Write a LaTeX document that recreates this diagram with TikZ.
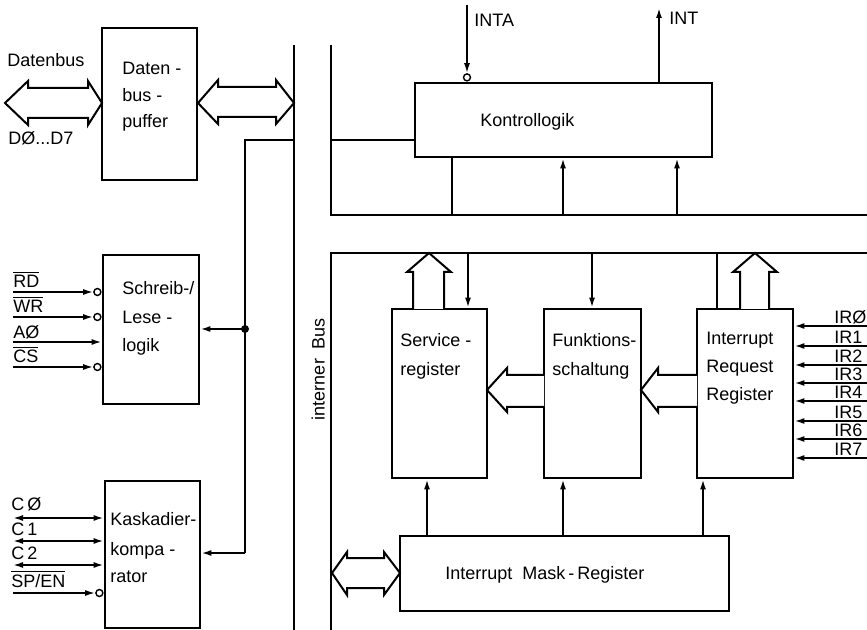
\documentclass[tikz,border=0pt]{standalone}
\usepackage{fontspec}
\setmainfont{Liberation Sans}
\usetikzlibrary{arrows.meta}
\begin{document}
\begin{tikzpicture}[x=0.5pt,y=-0.5pt,
  box/.style={draw, line width=1.4pt, inner sep=0pt},
  ln/.style={line width=0.9pt},
  arr/.style={line width=0.9pt, -{Latex[length=5pt,width=3pt]}},
  darr/.style={line width=0.9pt, {Latex[length=5pt,width=3pt]}-{Latex[length=5pt,width=3pt]}},
  hol/.style={draw, line width=1pt, line join=miter, fill=white},
  busline/.style={line width=1.2pt},
  txt/.style={font=\fontsize{9}{10}\selectfont, inner sep=0pt, anchor=west, text height=6.5pt, text depth=0pt},
  inv/.style={circle, draw, line width=0.7pt, inner sep=0pt, minimum size=3.5pt, fill=white},
]
\useasboundingbox (0,0) rectangle (867,630);

% ---------- boxes ----------
\node[box, minimum width=47.5pt, minimum height=76pt]   (buf) at (149.5,104) {};
\node[box, minimum width=48pt,   minimum height=74.5pt] (rw)  at (151,329.5) {};
\node[box, minimum width=47.5pt, minimum height=73.5pt] (cas) at (152.5,554.5) {};
\node[box, minimum width=148.5pt,minimum height=37pt]   (ctl) at (563.5,120) {};
\node[box, minimum width=47.5pt, minimum height=84.5pt] (isr) at (439.5,393.5) {};
\node[box, minimum width=48.5pt, minimum height=84.5pt] (fun) at (592.5,393.5) {};
\node[box, minimum width=48pt,   minimum height=84.5pt] (irr) at (745,393.5) {};
\node[box, minimum width=164.5pt,minimum height=37.5pt] (imr) at (564.5,573.5) {};

% ---------- box texts ----------
\node[txt] (tb1) at (122,68)  {Daten -};
\node[txt] (tb2) at (122,95)  {bus -};
\node[txt] (tb3) at (122,121) {puffer};
\node[txt] (tr1) at (122,288) {Schreib-/};
\node[txt] (tr2) at (122,317) {Lese -};
\node[txt] (tr3) at (122,345) {logik};
\node[txt] (tc1) at (110,519) {Kaskadier-};
\node[txt] (tc2) at (110,549) {kompa -};
\node[txt] (tc3) at (110,576) {rator};
\node[txt] (tk)  at (480,120) {Kontrollogik};
\node[txt] (ts1) at (400,340) {Service -};
\node[txt] (ts2) at (400,369) {register};
\node[txt] (tf1) at (552,340) {Funktions-};
\node[txt] (tf2) at (552,369) {schaltung};
\node[txt] (ti1) at (706,338) {Interrupt};
\node[txt] (ti2) at (706,366) {Request};
\node[txt] (ti3) at (706,394) {Register};
\node[txt] (tm)  at (445,573) {Interrupt\ \ Mask\,-\,Register};

% ---------- other labels ----------
\node[txt] (ldb)  at (7,60)   {Datenbus};
\node[txt] (ldd)  at (8,138)  {DØ...D7};
\node[txt] (linta) at (474,20) {INTA};
\node[txt] (lint)  at (669,18) {INT};
\node[txt, anchor=center, rotate=90] (lbus) at (318,369) {interner\ \ Bus};

% ---------- internal bus ----------
\coordinate (bL1) at (294,45);  \coordinate (bL2) at (294,630);
\draw[busline] (bL1) -- (bL2);
\coordinate (bR1) at (331,45);  \coordinate (bR2) at (331,215); \coordinate (bR3) at (867,215);
\draw[busline] (bR1) -- (bR2) -- (bR3);
\coordinate (bR4) at (867,253); \coordinate (bR5) at (331,253); \coordinate (bR6) at (331,630);
\draw[busline] (bR4) -- (bR5) -- (bR6);

% ---------- left internal line ----------
\coordinate (t1) at (294,140); \coordinate (t2) at (245,140); \coordinate (t3) at (245,553);
\draw[ln] (t1) -- (t2) -- (t3);
\draw[arr] (t3) -- (t3 -| cas.east);
\coordinate (jn) at (245,329);
\fill (jn) circle (2pt);
\draw[arr] (jn) -- (jn -| rw.east);

% ---------- hollow double arrows ----------
\path[hol] (5,103) -- (28,81) -- (28,88) -- (88,88) -- (88,81) -- (102,103) -- (88,125) -- (88,118) -- (28,118) -- (28,125) -- cycle;
\path[hol] (198,103) -- (218,80) -- (218,87) -- (276,87) -- (276,80) -- (294,103) -- (276,124) -- (276,117) -- (218,117) -- (218,124) -- cycle;
\path[hol] (332,573) -- (347,552) -- (347,558) -- (384,558) -- (384,552) -- (400,573) -- (384,595) -- (384,588) -- (347,588) -- (347,595) -- cycle;

% ---------- hollow single arrows ----------
\path[hol] (413,309) -- (413,272) -- (407,272) -- (429,253) -- (451,272) -- (444,272) -- (444,309);
\path[hol] (740,309) -- (740,272) -- (733,272) -- (755,253) -- (777,272) -- (769,272) -- (769,309);
\path[hol] (544,375) -- (507,375) -- (507,368) -- (487,390) -- (507,412) -- (507,407) -- (544,407);
\path[hol] (697,375) -- (658,375) -- (658,368) -- (641,390) -- (658,412) -- (658,407) -- (697,407);

% ---------- Kontrollogik connections ----------
\coordinate (cK) at (331,140);
\draw[ln] (cK) -- (cK -| ctl.west);
\coordinate (kx1) at (452,215); \coordinate (kx2) at (563,215); \coordinate (kx3) at (677,215);
\draw[ln]  (kx1) -- (kx1 |- ctl.south);
\draw[arr] (kx2) -- (kx2 |- ctl.south);
\draw[arr] (kx3) -- (kx3 |- ctl.south);
\coordinate (intaS) at (467,5);
\node[inv, anchor=south] (intaC) at (intaS |- ctl.north) {};
\draw[arr] (intaS) -- (intaC.north);
\coordinate (intE) at (659,8);
\draw[arr] (intE |- ctl.north) -- (intE);

% ---------- lower region connections ----------
\coordinate (sx) at (468,253); \coordinate (fx) at (592,253); \coordinate (rx) at (717,253);
\draw[arr] (sx) -- (sx |- isr.north);
\draw[arr] (fx) -- (fx |- fun.north);
\draw[ln]  (rx) -- (rx |- irr.north);
\coordinate (m1) at (427,536); \coordinate (m2) at (563,536); \coordinate (m3) at (703,536);
\draw[arr] (m1) -- (m1 |- isr.south);
\draw[arr] (m2) -- (m2 |- fun.south);
\draw[arr] (m3) -- (m3 |- irr.south);

% ---------- IR inputs ----------
\foreach \yy/\tt [count=\i] in {326/IRØ,346/IR1,365/IR2,383/IR3,401/IR4,421/IR5,439/IR6,458/IR7} {
  \coordinate (ir\i) at (867,\yy);
  \draw[arr] (ir\i) -- (ir\i -| irr.east);
  \node[txt] (irl\i) at (834,\yy-9) {\tt};
}

% ---------- Schreib/Lese inputs ----------
\coordinate (rdS) at (13,292); \coordinate (wrS) at (13,317);
\coordinate (aS)  at (13,342); \coordinate (csS) at (13,367);
\node[inv, anchor=east] (rdC) at (rdS -| rw.west) {};
\node[inv, anchor=east] (wrC) at (wrS -| rw.west) {};
\node[inv, anchor=east] (csC) at (csS -| rw.west) {};
\draw[arr] (rdS) -- (rdC.west);
\draw[arr] (wrS) -- (wrC.west);
\draw[arr] (aS)  -- (aS -| rw.west);
\draw[arr] (csS) -- (csC.west);
\node[txt] (lrd) at (13,281) {$\overline{\hbox{RD}}$};
\node[txt] (lwr) at (13,306) {$\overline{\hbox{WR}}$};
\node[txt] (la0) at (13,332) {AØ};
\node[txt] (lcs) at (13,356) {$\overline{\hbox{CS}}$};

% ---------- Kaskadier inputs ----------
\coordinate (c0S) at (13,518); \coordinate (c1S) at (13,541);
\coordinate (c2S) at (13,565); \coordinate (spS) at (13,593);
\draw[darr] (c0S) -- (c0S -| cas.west);
\draw[darr] (c1S) -- (c1S -| cas.west);
\draw[darr] (c2S) -- (c2S -| cas.west);
\node[inv, anchor=east] (spC) at (spS -| cas.west) {};
\draw[arr] (spS) -- (spC.west);
\node[txt] (lc0) at (11,504) {C\,Ø};
\node[txt] (lc1) at (11,529) {C\,1};
\node[txt] (lc2) at (11,553) {C\,2};
\node[txt] (lsp) at (11,581) {$\overline{\hbox{SP/EN}}$};
\end{tikzpicture}
\end{document}
